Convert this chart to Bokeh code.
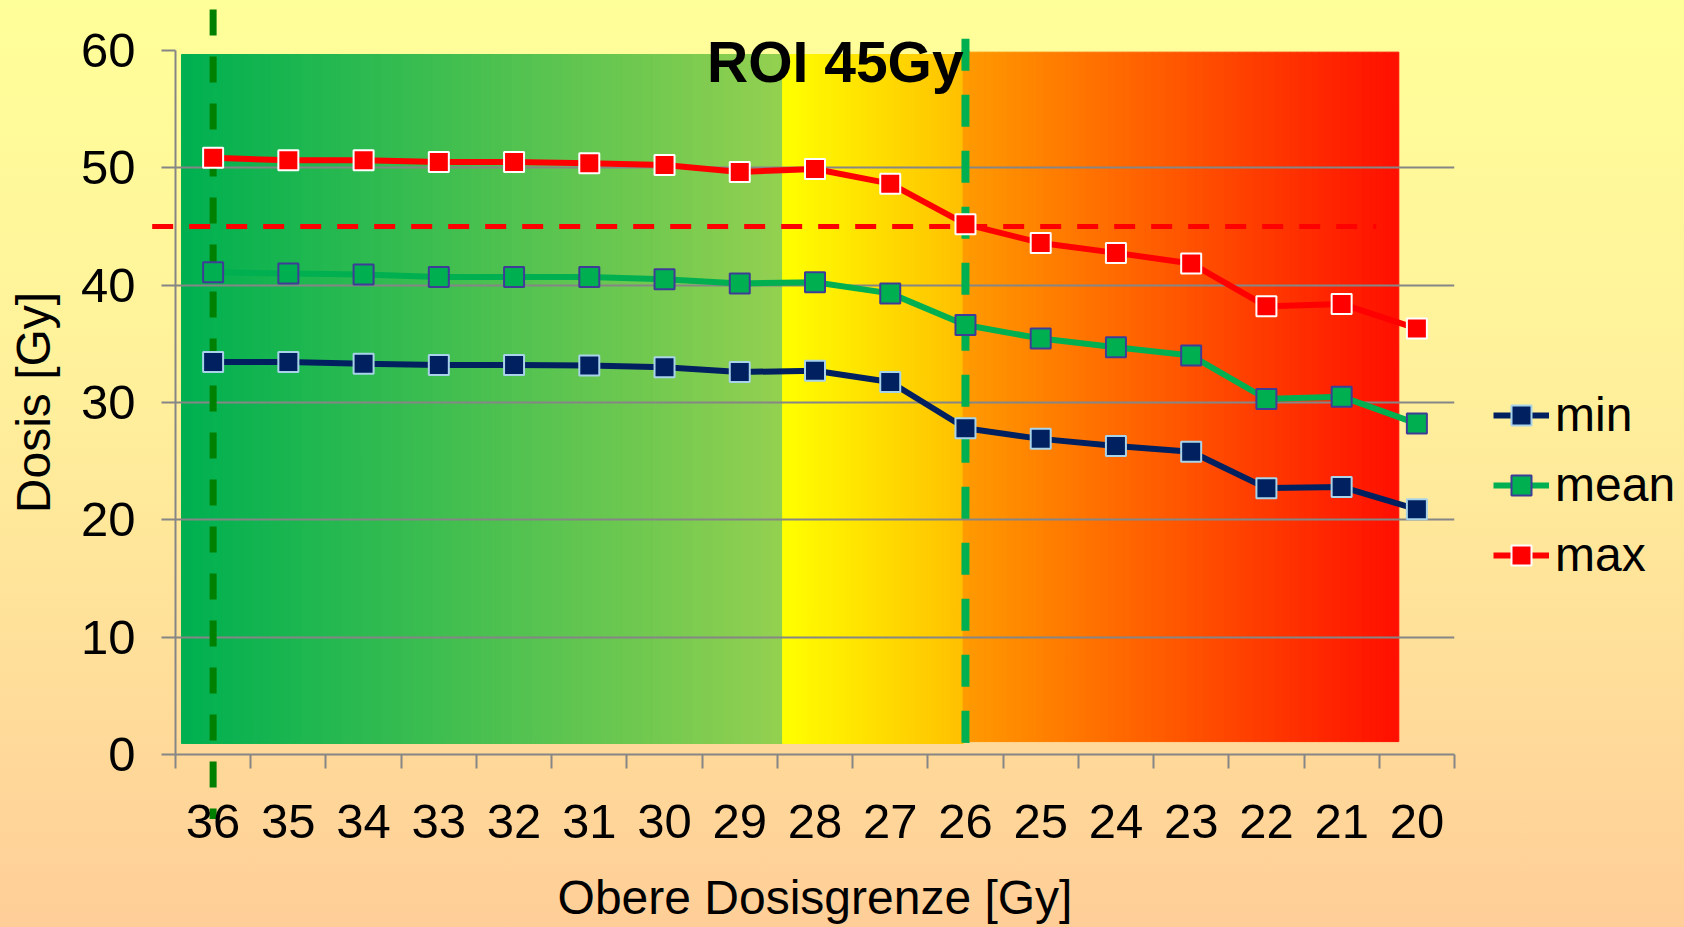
import numpy as np
from bokeh.plotting import figure
from bokeh.models import (Range1d, FixedTicker, Arrow, Label, Legend, LegendItem)
from bokeh.embed import file_html
from bokeh.resources import INLINE

# ---------------- data ----------------
categories = ["36", "35", "34", "33", "32", "31", "30", "29", "28",
              "27", "26", "25", "24", "23", "22", "21", "20"]
dose_min = [33.45, 33.45, 33.3, 33.2, 33.2, 33.15, 33.0, 32.6, 32.7,
            31.75, 27.8, 26.9, 26.3, 25.8, 22.7, 22.8, 20.9]
dose_mean = [41.1, 41.0, 40.9, 40.7, 40.7, 40.7, 40.5, 40.15, 40.25,
             39.3, 36.6, 35.45, 34.7, 34.0, 30.3, 30.5, 28.2]
dose_max = [50.85, 50.65, 50.65, 50.5, 50.5, 50.4, 50.25, 49.65, 49.9,
            48.65, 45.2, 43.6, 42.75, 41.85, 38.2, 38.4, 36.3]
y_ticks = [0, 10, 20, 30, 40, 50, 60]
roi_limit = 45
roi_label = "ROI 45Gy"
start_category = "36"
cut_category = "26"

FONT = "Liberation Sans"
GRAY = "#868686"

# ---------------- layout geometry (pixels) ----------------
W, H = 1684, 927
FL, FR, FT, FB = 175, 1454, 50, 754      # axis box: x 0..n, y 0..60
n = len(categories)
YMAX = 60
sx = (FR - FL) / n
sy = (FB - FT) / YMAX

xs = np.arange(n) + 0.5
xmap = dict(zip(categories, xs))

series = [
    ("min", dose_min, "#002060", "#A9D3E8"),
    ("mean", dose_mean, "#00B050", "#3F3C98"),
    ("max", dose_max, "#FF0000", "#FFFFFF"),
]
LINE_W = 6


def add_ref_lines(fig, level):
    fig.add_layout(Arrow(start=None, end=None, x_start=xmap[start_category], y_start=63.5,
                         x_end=xmap[start_category], y_end=-5.5, line_color="#008000",
                         line_width=7, line_dash="26 21", level=level))
    fig.add_layout(Arrow(start=None, end=None, x_start=xmap[cut_category], y_start=61.0,
                         x_end=xmap[cut_category], y_end=0.94, line_color="#00B050",
                         line_width=8, line_dash="32 24", level=level))
    fig.add_layout(Arrow(start=None, end=None, x_start=-0.31, y_start=roi_limit,
                         x_end=15.96, y_end=roi_limit, line_color="#FF0000",
                         line_width=5, line_dash="21 16", level=level))


def canvas_figure():
    """A transparent figure whose frame is the whole canvas, with the same data mapping."""
    f = figure(width=W, height=H, output_backend="svg", toolbar_location=None,
               x_range=Range1d(-FL / sx, (W - FL) / sx),
               y_range=Range1d(-(H - FB) / sy, FB / sy),
               x_axis_type=None, y_axis_type=None, min_border=0)
    f.background_fill_alpha = 0
    f.border_fill_alpha = 0
    f.outline_line_alpha = 0
    f.xgrid.visible = False
    f.ygrid.visible = False
    return f


# ================= back layer =================
bg = canvas_figure()
bg.styles = {"background-image": "linear-gradient(to bottom, #FFFF99 0%, #FFF19B 40%, #FFCE98 100%)"}
add_ref_lines(bg, "annotation")

items = []
for name, vals, col, edge in series:
    ln = bg.line(xs, vals, line_color=col, line_width=LINE_W, visible=False)
    sc = bg.scatter(xs, vals, marker="square", size=20, fill_color=col,
                    line_color=edge, line_width=2, visible=False)
    items.append(LegendItem(label=name, renderers=[ln, sc]))
legend = Legend(items=items, location=(1493, 345), padding=0, margin=0,
                glyph_width=56, glyph_height=50, label_height=50, spacing=15,
                label_standoff=6, label_text_font=FONT, label_text_font_size="48px",
                label_text_color="black",
                border_line_alpha=0, background_fill_alpha=0)
bg.add_layout(legend)

# ================= main chart =================
p = figure(width=W, height=H, output_backend="svg", toolbar_location=None,
           x_range=Range1d(0, n), y_range=Range1d(0, YMAX),
           min_border_left=FL, min_border_right=W - FR,
           min_border_top=FT, min_border_bottom=H - FB)
p.styles = {"position": "absolute", "top": "0px", "left": "0px"}
p.background_fill_alpha = 0
p.border_fill_alpha = 0
p.outline_line_alpha = 0


def hex2rgb(h):
    h = h.lstrip("#")
    return np.array([int(h[i:i + 2], 16) for i in (0, 2, 4)], dtype=float)


zones = [
    (0.08, 8.07, 0.94, 59.66, "#00B050", "#92D050"),
    (8.07, 10.47, 0.94, 59.66, "#FFFF00", "#FFC000"),
    (10.47, 16.26, 1.1, 59.86, "#FF9A00", "#FF1000"),
]
for x0, x1, y0, y1, c0, c1 in zones:
    steps = 60
    edges = np.linspace(x0, x1, steps + 1)
    a, b = hex2rgb(c0), hex2rgb(c1)
    cols = []
    for i in range(steps):
        t = i / (steps - 1)
        r, g, bb = (a + (b - a) * t).round().astype(int)
        cols.append("#%02x%02x%02x" % (r, g, bb))
    p.quad(left=edges[:-1], right=edges[1:], bottom=y0, top=y1,
           fill_color=cols, line_color=cols, line_width=1, level="image")

p.xgrid.visible = False
p.ygrid.ticker = FixedTicker(ticks=y_ticks)
p.ygrid.grid_line_color = GRAY
p.ygrid.grid_line_width = 2

ya = p.yaxis[0]
ya.ticker = FixedTicker(ticks=y_ticks)
ya.axis_line_color = GRAY
ya.axis_line_width = 2
ya.major_tick_line_color = GRAY
ya.major_tick_line_width = 2
ya.major_tick_out = 14
ya.major_tick_in = 0
ya.minor_tick_line_alpha = 0
ya.major_label_text_font = FONT
ya.major_label_text_font_size = "49px"
ya.major_label_text_color = "black"
ya.major_label_standoff = 26
ya.axis_label = "Dosis [Gy]"
ya.axis_label_text_font = FONT
ya.axis_label_text_font_size = "48px"
ya.axis_label_text_font_style = "normal"
ya.axis_label_text_color = "black"
ya.axis_label_standoff = 18

xa = p.xaxis[0]
xa.ticker = FixedTicker(ticks=[float(v) for v in xs], minor_ticks=list(range(n + 1)))
xa.major_label_overrides = {float(v): c for v, c in zip(xs, categories)}
xa.axis_line_color = GRAY
xa.axis_line_width = 2
xa.major_tick_line_alpha = 0
xa.major_tick_out = 0
xa.major_tick_in = 0
xa.minor_tick_line_color = GRAY
xa.minor_tick_line_width = 2
xa.minor_tick_out = 14
xa.minor_tick_in = 0
xa.major_label_text_font = FONT
xa.major_label_text_font_size = "49px"
xa.major_label_text_color = "black"
xa.major_label_standoff = 36
xa.axis_label = "Obere Dosisgrenze [Gy]"
xa.axis_label_text_font = FONT
xa.axis_label_text_font_size = "48px"
xa.axis_label_text_font_style = "normal"
xa.axis_label_text_color = "black"
xa.axis_label_standoff = 30

add_ref_lines(p, "underlay")

for name, vals, col, edge in series:
    p.line(xs, vals, line_color=col, line_width=LINE_W)
    p.scatter(xs, vals, marker="square", size=20, fill_color=col,
              line_color=edge, line_width=2)

# ================= front layer: title =================
front = canvas_figure()
front.styles = {"position": "absolute", "top": "0px", "left": "0px"}
front.add_layout(Label(x=8.77, y=59.0, text=roi_label, text_align="center",
                       text_baseline="alphabetic", text_font=FONT, text_font_size="57px",
                       text_font_style="bold", text_color="black"))

open("out.html", "w").write(file_html([bg, p, front], INLINE))
